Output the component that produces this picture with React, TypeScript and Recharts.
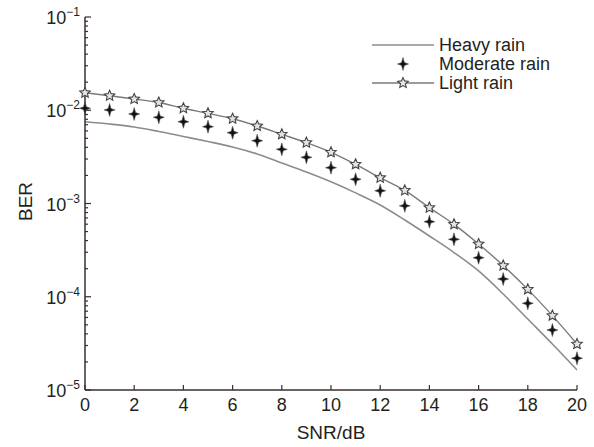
import React from 'react';
import { LineChart, Line, XAxis, YAxis } from 'recharts';

const snr = [0, 1, 2, 3, 4, 5, 6, 7, 8, 9, 10, 11, 12, 13, 14, 15, 16, 17, 18, 19, 20];
const heavyRain = [0.00754, 0.00712, 0.00661, 0.00592, 0.00523, 0.00462, 0.00404, 0.0034, 0.00272, 0.00218, 0.00171, 0.0013, 0.000964, 0.000665, 0.000448, 0.000298, 0.000189, 0.000107, 0.0000577, 0.0000311, 0.0000164];
const moderateRain = [0.0105, 0.01007, 0.00912, 0.0084, 0.00753, 0.00666, 0.00574, 0.00471, 0.00381, 0.00313, 0.00242, 0.00182, 0.00137, 0.000944, 0.000638, 0.000413, 0.000262, 0.000155, 0.0000851, 0.000044, 0.0000219];
const lightRain = [0.0154, 0.0143, 0.0132, 0.0121, 0.0105, 0.00927, 0.00811, 0.00678, 0.00552, 0.00449, 0.00354, 0.00263, 0.00189, 0.00138, 0.000902, 0.000598, 0.000368, 0.000216, 0.00012, 0.0000627, 0.0000311];

const xTicks = [0, 2, 4, 6, 8, 10, 12, 14, 16, 18, 20];
const decadeExps = [-5, -4, -3, -2];
const minorMultipliers = [1, 2, 3, 4, 5, 6, 7, 8, 9];
const seriesNames = ['Heavy rain', 'Moderate rain', 'Light rain'];

const yTicks: number[] = [];
decadeExps.forEach((e) => minorMultipliers.forEach((m) => yTicks.push(m * Math.pow(10, e))));
yTicks.push(0.1);

const data = snr.map((s, i) => ({ snr: s, heavy: heavyRain[i], moderate: moderateRain[i], light: lightRain[i] }));

const AXIS = '#3a2e2e';
const TEXT = '#231f20';
const FONT = '"Liberation Sans", Arial, sans-serif';

const XTick = (props: any) => {
  const { x, y, payload } = props;
  return (
    <g>
      <line x1={x} x2={x} y1={y} y2={y - 5} stroke={AXIS} strokeWidth={1.2} />
      <text x={x} y={y + 21} textAnchor="middle" fontSize={18} fontFamily={FONT} fill={TEXT}>
        {payload.value}
      </text>
    </g>
  );
};

const YTick = (props: any) => {
  const { x, y, payload } = props;
  const v = payload.value;
  const exp = Math.round(Math.log10(v));
  const major = Math.abs(v - Math.pow(10, exp)) / v < 1e-6;
  return (
    <g>
      <line x1={x} x2={x + (major ? 6 : 3)} y1={y} y2={y} stroke={AXIS} strokeWidth={1.2} />
      {major && (
        <text x={x - 5} y={y + 7} textAnchor="end" fontSize={18} fontFamily={FONT} fill={TEXT}>
          10
          <tspan dy={-8} fontSize={12}>{'\u2212' + Math.abs(exp)}</tspan>
        </text>
      )}
    </g>
  );
};

const starPath = (cx: number, cy: number, ro: number, ri: number, n: number) => {
  let d = '';
  for (let i = 0; i < n * 2; i++) {
    const r = i % 2 === 0 ? ro : ri;
    const a = -Math.PI / 2 + (i * Math.PI) / n;
    d += (i === 0 ? 'M' : 'L') + (cx + r * Math.cos(a)).toFixed(2) + ',' + (cy + r * Math.sin(a)).toFixed(2);
  }
  return d + 'Z';
};

const crossPath = (cx: number, cy: number) =>
  `M${cx},${cy - 6.5} L${cx + 1.4},${cy - 1.4} L${cx + 5.5},${cy} L${cx + 1.4},${cy + 1.4} L${cx},${cy + 6.5} L${cx - 1.4},${cy + 1.4} L${cx - 5.5},${cy} L${cx - 1.4},${cy - 1.4} Z`;

const CrossDot = (props: any) => {
  const { cx, cy } = props;
  if (cx == null || cy == null) return null;
  return <path d={crossPath(cx, cy)} fill="#111" stroke="#555" strokeWidth={0.6} />;
};

const StarDot = (props: any) => {
  const { cx, cy } = props;
  if (cx == null || cy == null) return null;
  return <path d={starPath(cx, cy, 5.5, 2.6, 5)} fill="#e4e4e4" stroke="#444" strokeWidth={1.1} />;
};

const XTitle = (props: any) => {
  const vb = props.viewBox || {};
  return (
    <text x={vb.x + vb.width / 2} y={vb.y + 49} textAnchor="middle" fontSize={19} fontFamily={FONT} fill={TEXT}>
      SNR/dB
    </text>
  );
};

const YTitle = (props: any) => {
  const vb = props.viewBox || {};
  const cx = 25;
  const cy = vb.y + vb.height / 2 - 2;
  return (
    <text x={cx} y={cy} transform={`rotate(-90 ${cx} ${cy})`} textAnchor="middle" dominantBaseline="central" fontSize={19} fontFamily={FONT} fill={TEXT}>
      BER
    </text>
  );
};

const legendRowStyle = (cy: number): React.CSSProperties => ({
  position: 'absolute',
  left: 372,
  top: cy - 11,
  height: 22,
  display: 'flex',
  alignItems: 'center',
  fontFamily: FONT,
  fontSize: 18,
  color: TEXT,
  whiteSpace: 'nowrap',
});

export default function App() {
  return (
    <div style={{ position: 'absolute', left: 0, top: 0, width: 594, height: 447, background: '#fff' }}>
      <LineChart width={594} height={447} data={data} margin={{ top: 17, right: 17, bottom: 0, left: 25 }}>
        <XAxis
          dataKey="snr"
          type="number"
          domain={[0, 20]}
          ticks={xTicks}
          interval={0}
          tick={<XTick />}
          tickLine={false}
          tickSize={0}
          tickMargin={0}
          height={57}
          axisLine={{ stroke: AXIS, strokeWidth: 1.5 }}
          label={<XTitle />}
        />
        <XAxis xAxisId="top" orientation="top" type="number" domain={[0, 20]} height={0} tick={false} tickLine={false} axisLine={{ stroke: AXIS, strokeWidth: 1.5 }} />
        <YAxis
          scale="log"
          domain={[1e-5, 1e-1]}
          allowDataOverflow
          ticks={yTicks}
          interval={0}
          tick={<YTick />}
          tickLine={false}
          tickSize={0}
          tickMargin={0}
          width={60}
          axisLine={{ stroke: AXIS, strokeWidth: 1.5 }}
          label={<YTitle />}
        />
        <YAxis yAxisId="right" orientation="right" width={0} tick={false} tickLine={false} axisLine={{ stroke: AXIS, strokeWidth: 1.5 }} />
        <Line type="monotone" dataKey="heavy" name={seriesNames[0]} stroke="#8c8c8c" strokeWidth={1.6} dot={false} isAnimationActive={false} />
        <Line type="monotone" dataKey="moderate" name={seriesNames[1]} stroke="none" dot={<CrossDot />} activeDot={false} isAnimationActive={false} />
        <Line type="monotone" dataKey="light" name={seriesNames[2]} stroke="#7a7a7a" strokeWidth={1.4} dot={<StarDot />} activeDot={false} isAnimationActive={false} />
      </LineChart>
      <div style={legendRowStyle(45)}>
        <svg width={62} height={14} style={{ marginRight: 5 }}>
          <line x1={0} x2={62} y1={7} y2={7} stroke="#8c8c8c" strokeWidth={1.6} />
        </svg>
        {seriesNames[0]}
      </div>
      <div style={legendRowStyle(64)}>
        <svg width={62} height={16} style={{ marginRight: 5 }}>
          <path d={crossPath(31, 8)} fill="#111" stroke="#555" strokeWidth={0.6} />
        </svg>
        {seriesNames[1]}
      </div>
      <div style={legendRowStyle(83)}>
        <svg width={62} height={14} style={{ marginRight: 5 }}>
          <line x1={0} x2={62} y1={7} y2={7} stroke="#7a7a7a" strokeWidth={1.4} />
          <path d={starPath(31, 7, 5.5, 2.6, 5)} fill="#e4e4e4" stroke="#444" strokeWidth={1.1} />
        </svg>
        {seriesNames[2]}
      </div>
    </div>
  );
}
